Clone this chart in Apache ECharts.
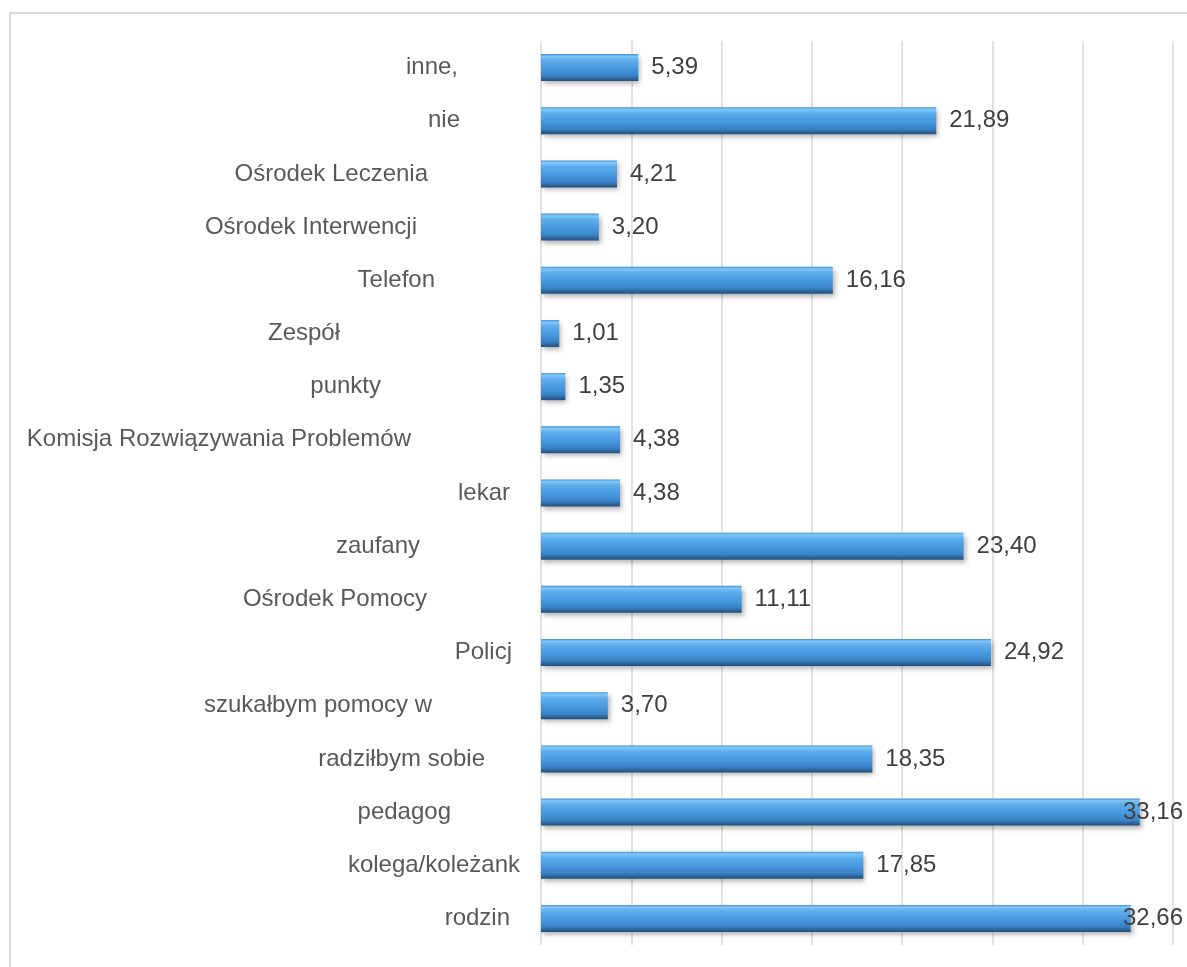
<!DOCTYPE html>
<html>
<head>
<meta charset="utf-8">
<script src="https://cdn.jsdelivr.net/npm/echarts@6/dist/echarts.min.js"></script>
<style>
  html, body { margin: 0; padding: 0; background: #fff; }
  #chart { width: 1187px; height: 967px; }
</style>
</head>
<body>
<div id="chart"></div>
<script>
/* ── dane (od dołu do góry) ── */
const categories = [
  'rodzin', 'kolega/koleżank', 'pedagog', 'radziłbym sobie', 'szukałbym pomocy w',
  'Policj', 'Ośrodek Pomocy', 'zaufany', 'lekar', 'Komisja Rozwiązywania Problemów',
  'punkty', 'Zespół', 'Telefon', 'Ośrodek Interwencji', 'Ośrodek Leczenia', 'nie', 'inne,'
];
const values = [
  32.66, 17.85, 33.16, 18.35, 3.70,
  24.92, 11.11, 23.40, 4.38, 4.38,
  1.35, 1.01, 16.16, 3.20, 4.21, 21.89, 5.39
];
const xTicks = [0, 5, 10, 15, 20, 25, 30, 35];

// odstęp etykiet kategorii od osi (etykiety w oryginale nie są wyrównane)
const labelGaps = [31, 21, 90, 56, 109, 29, 114, 121, 31, 130, 160, 201, 106, 124, 113, 81, 83];

const chart = echarts.init(document.getElementById('chart'));

const barGradient = new echarts.graphic.LinearGradient(0, 0, 0, 1, [
  { offset: 0, color: '#4590d4' },
  { offset: 0.08, color: '#80c8f7' },
  { offset: 0.22, color: '#5eaeed' },
  { offset: 0.55, color: '#4797de' },
  { offset: 0.8, color: '#3a82c6' },
  { offset: 0.9, color: '#2e68a0' },
  { offset: 1, color: '#234e7a' },
]);

chart.setOption({
  animation: false,
  textStyle: { fontFamily: '"Liberation Sans", Arial, sans-serif' },
  graphic: [{
    type: 'rect', silent: true,
    shape: { x: 10, y: 13, width: 1300, height: 1100 },
    style: { fill: 'none', stroke: '#d9d9d9', lineWidth: 2 },
  }],
  grid: { left: 541, right: 14, top: 41, bottom: 22 },
  xAxis: {
    type: 'value',
    min: xTicks[0], max: xTicks[xTicks.length - 1], interval: xTicks[1] - xTicks[0],
    axisLabel: { show: false },
    axisLine: { show: false },
    axisTick: { show: false },
    splitLine: { show: true, lineStyle: { color: '#d9d9d9', width: 1.5 } },
  },
  yAxis: {
    type: 'category',
    data: categories.map((c, i) => ({
      value: c,
      textStyle: { padding: [0, labelGaps[i], 0, 0] },
    })),
    axisLine: { show: false },
    axisTick: { show: false },
    axisLabel: { margin: 0, align: 'right', fontSize: 24, color: '#595959' },
  },
  series: [{
    type: 'bar',
    data: values,
    barWidth: 27,
    itemStyle: {
      color: barGradient,
      shadowColor: 'rgba(0,0,0,0.3)', shadowBlur: 5, shadowOffsetX: 2, shadowOffsetY: 3,
    },
    label: {
      show: true, position: 'right', distance: 13,
      fontSize: 24, color: '#404040',
      formatter: p => p.value.toFixed(2).replace('.', ','),
    },
    // etykiety wychodzące poza wykres dosuwamy do prawej krawędzi
    labelLayout: function (p) {
      const W = chart.getWidth();
      const r = p.labelRect;
      if (r.x + r.width > W - 4) {
        return {
          x: W - 4 - r.width, y: r.y + r.height / 2,
          align: 'left', verticalAlign: 'middle',
        };
      }
      return {};
    },
  }],
});
</script>
</body>
</html>
